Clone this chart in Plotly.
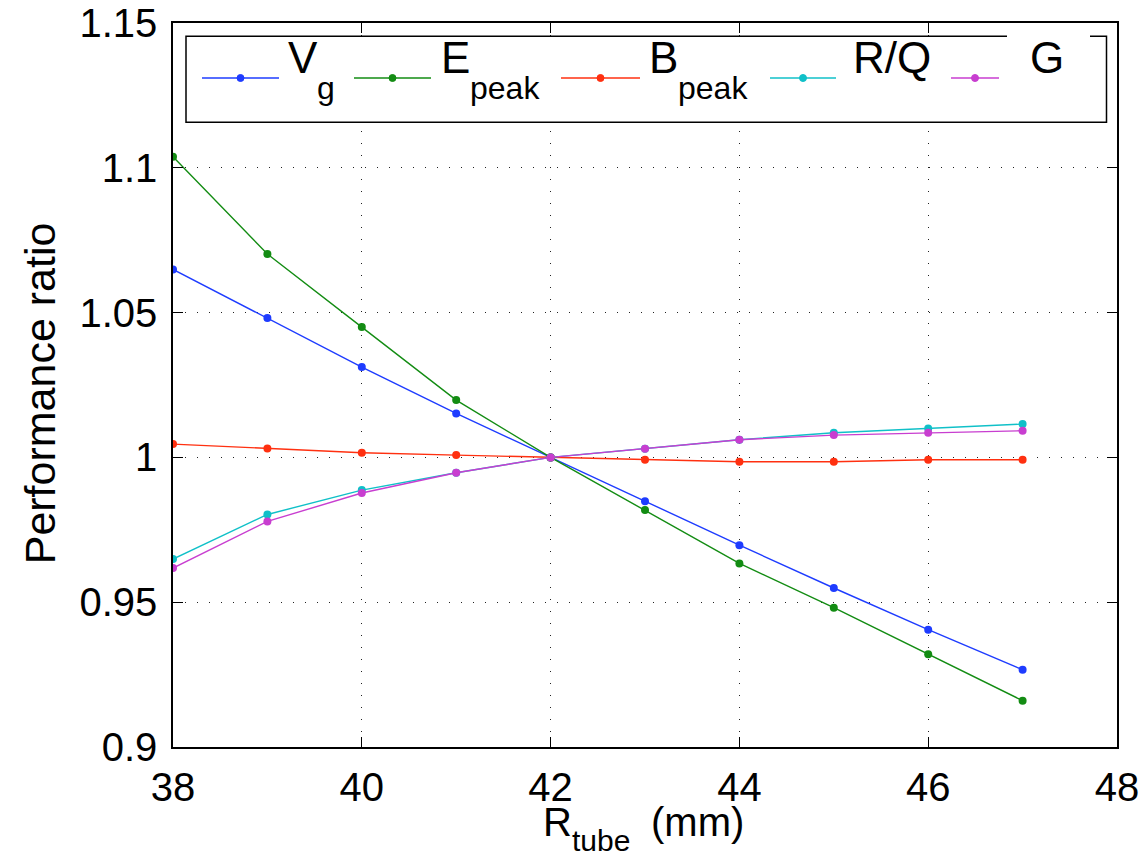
import plotly.graph_objects as go

# ---------------- data ----------------
r_tube = [38, 39, 40, 41, 42, 43, 44, 45, 46, 47]
vg     = [1.0649, 1.0481, 1.0312, 1.0152, 1.0, 0.9849, 0.9697, 0.9549, 0.9405, 0.9267]
e_peak = [1.1038, 1.0702, 1.0450, 1.0198, 1.0, 0.9818, 0.9634, 0.9481, 0.9320, 0.9160]
b_peak = [1.0046, 1.0031, 1.0016, 1.0008, 1.0, 0.9992, 0.9985, 0.9985, 0.9992, 0.9992]
r_q    = [0.9649, 0.9803, 0.9887, 0.9947, 1.0, 1.0030, 1.0061, 1.0085, 1.0100, 1.0115]
g_fac  = [0.9618, 0.9779, 0.9877, 0.9947, 1.0, 1.0030, 1.0061, 1.0077, 1.0085, 1.0092]

x_ticks = [38, 40, 42, 44, 46, 48]
y_ticks = [0.9, 0.95, 1.0, 1.05, 1.1, 1.15]
y_ticktext = ["0.9", "0.95", "1", "1.05", "1.1", "1.15"]

series_names = ["V", "E", "B", "R/Q", "G"]
series_subs = ["g", "peak", "peak", "", ""]
series_colors = ["#1e3cff", "#138c13", "#ff3010", "#10c0c8", "#c83ed0"]

# ---------------- layout geometry (screen pixels; page body margin removed) ----------------
FW, FH = 1148, 860
PL, PR, PT, PB = 173, 1117, 22.7, 746.7
PW, PH = PR - PL, PB - PT


def pxx(px):
    return (px - PL) / PW


def pxy(py):
    return (PB - py) / PH


FONT = "Liberation Sans, Arial, Helvetica, sans-serif"

fig = go.Figure()
for ys, c, n in zip([vg, e_peak, b_peak, r_q, g_fac], series_colors, series_names):
    fig.add_trace(go.Scatter(
        x=r_tube, y=ys, mode="lines+markers", name=n,
        line=dict(color=c, width=1.4),
        marker=dict(color=c, size=8),
        showlegend=False,
    ))

shapes = []
annotations = []

# legend box
shapes.append(dict(type="rect", xref="paper", yref="paper",
                   x0=pxx(186), x1=pxx(1106.5), y0=pxy(122), y1=pxy(36),
                   line=dict(color="black", width=1.5), fillcolor="white", layer="above"))
shapes.append(dict(type="rect", xref="paper", yref="paper",
                   x0=pxx(1007), x1=pxx(1090), y0=pxy(37.5), y1=pxy(34.5),
                   line=dict(width=0), fillcolor="white", layer="above"))

leg_lines = [(202, 279), (354, 431), (561, 640), (770, 836), (951, 999)]
leg_text_x = [288, 441, 649, 853, 1030]
leg_y = 77.7
for (x0, x1), tx, c, n, s in zip(leg_lines, leg_text_x, series_colors, series_names, series_subs):
    shapes.append(dict(type="line", xref="paper", yref="paper",
                       x0=pxx(x0), x1=pxx(x1), y0=pxy(leg_y), y1=pxy(leg_y),
                       line=dict(color=c, width=1.4), layer="above"))
    xm = (x0 + x1) / 2
    shapes.append(dict(type="circle", xref="paper", yref="paper",
                       x0=pxx(xm - 3.5), x1=pxx(xm + 3.5), y0=pxy(leg_y + 3.5), y1=pxy(leg_y - 3.5),
                       line=dict(color=c, width=1), fillcolor=c, layer="above"))
    annotations.append(dict(text=n, xref="paper", yref="paper", x=pxx(tx - 2), y=pxy(57),
                            xanchor="left", yanchor="middle", showarrow=False,
                            font=dict(family=FONT, size=44, color="black")))
    if s:
        annotations.append(dict(text=s, xref="paper", yref="paper", x=pxx(tx + 27), y=pxy(88),
                                xanchor="left", yanchor="middle", showarrow=False,
                                font=dict(family=FONT, size=32, color="black")))

# axis titles
annotations.append(dict(text="Performance ratio", xref="paper", yref="paper",
                        x=pxx(40), y=pxy(393), xanchor="center", yanchor="middle",
                        textangle=-90, showarrow=False,
                        font=dict(family=FONT, size=43, color="black")))
annotations.append(dict(text="R", xref="paper", yref="paper",
                        x=pxx(541), y=pxy(822), xanchor="left", yanchor="middle",
                        showarrow=False, font=dict(family=FONT, size=40, color="black")))
annotations.append(dict(text="tube", xref="paper", yref="paper",
                        x=pxx(570), y=pxy(840), xanchor="left", yanchor="middle",
                        showarrow=False, font=dict(family=FONT, size=30, color="black")))
annotations.append(dict(text="(mm)", xref="paper", yref="paper",
                        x=pxx(649), y=pxy(822), xanchor="left", yanchor="middle",
                        showarrow=False, font=dict(family=FONT, size=40, color="black")))

axis_common = dict(
    showline=True, linecolor="black", linewidth=1.5, mirror="ticks",
    ticks="inside", ticklen=10, tickwidth=1.2, tickcolor="black",
    showgrid=True, gridcolor="#222222", gridwidth=1, griddash="1px,11px",
    zeroline=False, ticklabeloverflow="allow",
    tickfont=dict(family=FONT, size=40, color="black"),
)

fig.update_layout(
    width=FW, height=FH,
    margin=dict(l=PL, r=FW - PR, t=PT, b=FH - PB, autoexpand=False),
    paper_bgcolor="white", plot_bgcolor="white",
    shapes=shapes, annotations=annotations,
    xaxis=dict(range=[38, 48], tickvals=x_ticks, ticktext=[str(v) for v in x_ticks],
               ticklabelstandoff=4, **axis_common),
    yaxis=dict(range=[0.9, 1.15], tickvals=y_ticks, ticktext=y_ticktext,
               ticklabelstandoff=6, **axis_common),
    showlegend=False,
)

fig.write_html("out.html", config={"displayModeBar": False},
               post_script="document.body.style.margin='0';document.body.style.overflow='hidden';")
